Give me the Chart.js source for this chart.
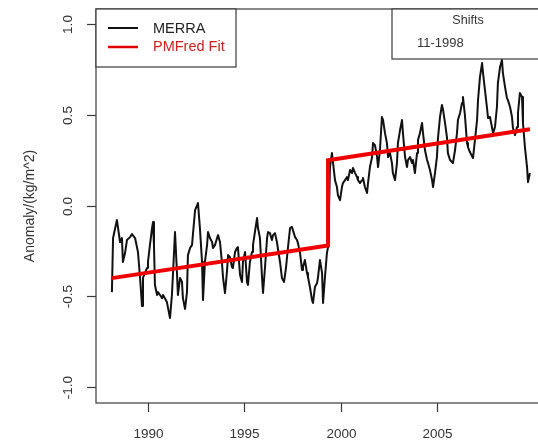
<!DOCTYPE html>
<html>
<head>
<meta charset="utf-8">
<script src="https://cdn.jsdelivr.net/npm/chart.js@4"></script>
<style>
  html, body { margin: 0; padding: 0; background: #fff; overflow: hidden; }
  canvas { display: block; }
</style>
</head>
<body>
<canvas id="chart" width="550" height="448"></canvas>
<script>
// MERRA anomaly (kg/m^2)
const merraYears = [
  1988.13, 1988.19, 1988.39, 1988.45, 1988.55, 1988.65, 1988.70, 1988.81, 1988.91, 1989.07,
  1989.17, 1989.33, 1989.48, 1989.59, 1989.69, 1989.74, 1989.95, 1990.00, 1990.10, 1990.21,
  1990.26, 1990.31, 1990.36, 1990.47, 1990.52, 1990.62, 1990.73, 1990.78, 1990.98, 1991.14,
  1991.24, 1991.30, 1991.40, 1991.50, 1991.55, 1991.66, 1991.76, 1991.81, 1991.92, 1992.02,
  1992.07, 1992.18, 1992.28, 1992.44, 1992.59,
  1992.69, 1992.80, 1992.85, 1992.95, 1993.06, 1993.11, 1993.21, 1993.32, 1993.37, 1993.47,
  1993.58, 1993.63, 1993.73, 1993.83, 1993.89, 1993.99, 1994.09, 1994.15, 1994.25, 1994.35,
  1994.40, 1994.51, 1994.61, 1994.66, 1994.77, 1994.87, 1994.92, 1995.03, 1995.13, 1995.18,
  1995.28, 1995.39, 1995.44, 1995.54, 1995.65, 1995.70, 1995.80, 1995.91, 1995.96, 1996.06,
  1996.17, 1996.22, 1996.32, 1996.42, 1996.48, 1996.58, 1996.68, 1996.84, 1996.94, 1997.05,
  1997.15, 1997.25, 1997.36, 1997.46,
  1997.62, 1997.72, 1997.77, 1997.88, 1997.98, 1998.03, 1998.13, 1998.24, 1998.29, 1998.39,
  1998.50, 1998.55, 1998.65, 1998.76, 1998.81, 1998.91, 1999.02, 1999.07, 1999.17, 1999.27,
  1999.33, 1999.43, 1999.53, 1999.59, 1999.69, 1999.79, 1999.84, 1999.95, 2000.05, 2000.10,
  2000.21, 2000.31, 2000.36, 2000.47, 2000.57, 2000.62, 2000.73, 2000.83, 2000.88, 2000.98,
  2001.09, 2001.14, 2001.24, 2001.35, 2001.40, 2001.50, 2001.61, 2001.66, 2001.76, 2001.87,
  2001.92,
  2002.02, 2002.12, 2002.18, 2002.28, 2002.38, 2002.44, 2002.54, 2002.64, 2002.69, 2002.80,
  2002.90, 2002.95, 2003.06, 2003.16, 2003.21, 2003.32, 2003.42, 2003.47, 2003.58, 2003.68,
  2003.73, 2003.83, 2003.94, 2003.99, 2004.09, 2004.20, 2004.25, 2004.35, 2004.46, 2004.51,
  2004.61, 2004.72, 2004.77, 2004.87, 2004.97, 2005.03, 2005.13, 2005.23, 2005.29, 2005.39,
  2005.49, 2005.54, 2005.65, 2005.75, 2005.80, 2005.91, 2006.01, 2006.06, 2006.17, 2006.27,
  2006.32, 2006.42, 2006.53, 2006.58,
  2006.68, 2006.84, 2006.94, 2007.05, 2007.10, 2007.20, 2007.31, 2007.36, 2007.46, 2007.56,
  2007.62, 2007.72, 2007.82, 2007.88, 2007.98, 2008.08, 2008.13, 2008.24, 2008.34, 2008.39,
  2008.50, 2008.60, 2008.65, 2008.76, 2008.86, 2008.91, 2009.02, 2009.12, 2009.17, 2009.27,
  2009.38, 2009.43, 2009.53, 2009.64, 2009.69, 2009.79
];
const merraValues = [
  -0.477, -0.179, -0.080, -0.124, -0.201, -0.179, -0.311, -0.262, -0.190, -0.174,
  -0.157, -0.179, -0.256, -0.399, -0.554, -0.399, -0.344, -0.311, -0.218, -0.124,
  -0.091, -0.218, -0.438, -0.493, -0.477, -0.493, -0.510, -0.493, -0.532, -0.620,
  -0.493, -0.366, -0.146, -0.366, -0.493, -0.399, -0.421, -0.510, -0.570, -0.477,
  -0.273, -0.234, -0.218, -0.025, 0.014,
  -0.124, -0.311, -0.521, -0.311, -0.218, -0.146, -0.179, -0.201, -0.234, -0.218,
  -0.179, -0.163, -0.201, -0.311, -0.399, -0.482, -0.366, -0.273, -0.284, -0.339,
  -0.344, -0.256, -0.234, -0.229, -0.383, -0.421, -0.311, -0.256, -0.421, -0.438,
  -0.311, -0.256, -0.218, -0.146, -0.069, -0.124, -0.179, -0.399, -0.482, -0.344,
  -0.179, -0.146, -0.152, -0.190, -0.163, -0.152, -0.201, -0.311, -0.399, -0.421,
  -0.344, -0.234, -0.124, -0.118,
  -0.174, -0.190, -0.207, -0.262, -0.355, -0.339, -0.300, -0.372, -0.394, -0.449,
  -0.521, -0.537, -0.449, -0.427, -0.394, -0.300, -0.372, -0.537, -0.394, -0.262,
  -0.229, 0.212, 0.289, 0.234, 0.140, 0.102, 0.058, 0.030, 0.102, 0.124,
  0.140, 0.157, 0.140, 0.196, 0.179, 0.207, 0.179, 0.157, 0.140, 0.124,
  0.140, 0.152, 0.102, 0.069, 0.124, 0.212, 0.267, 0.344, 0.333, 0.267,
  0.212,
  0.306, 0.488, 0.471, 0.399, 0.344, 0.267, 0.289, 0.234, 0.179, 0.140,
  0.234, 0.344, 0.416, 0.471, 0.399, 0.267, 0.212, 0.251, 0.267, 0.234,
  0.251, 0.179, 0.289, 0.361, 0.399, 0.455, 0.399, 0.306, 0.251, 0.234,
  0.196, 0.140, 0.102, 0.179, 0.267, 0.377, 0.488, 0.554, 0.526, 0.455,
  0.377, 0.289, 0.251, 0.240, 0.234, 0.306, 0.399, 0.471, 0.510, 0.565,
  0.598, 0.499, 0.344, 0.322,
  0.295, 0.262, 0.361, 0.471, 0.581, 0.708, 0.785, 0.730, 0.636, 0.543,
  0.482, 0.488, 0.433, 0.399, 0.433, 0.543, 0.675, 0.763, 0.802, 0.730,
  0.653, 0.592, 0.581, 0.543, 0.488, 0.427, 0.388, 0.433, 0.510, 0.620,
  0.598, 0.455, 0.322, 0.212, 0.129, 0.179
];

// PMFred fit with one shift
const fitYears = [1988.13, 1999.33, 1999.33, 2009.79];
const fitValues = [-0.40, -0.22, 0.25, 0.42];

const xTicks = [1990, 1995, 2000, 2005];
const yTicks = [-1.0, -0.5, 0.0, 0.5, 1.0];
const yTickLabels = ['-1.0', '-0.5', '0.0', '0.5', '1.0'];
const shiftLabels = ['11-1998'];

const FONT = '"Liberation Sans", Arial, Helvetica, sans-serif';

const rStyle = {
  id: 'rStyle',
  afterDraw(chart) {
    const ctx = chart.ctx;
    const a = chart.chartArea;
    const xs = chart.scales.x, ys = chart.scales.y;
    ctx.save();
    ctx.strokeStyle = '#3a3a3a';
    ctx.lineWidth = 1.2;
    // plot box
    ctx.strokeRect(a.left, a.top, a.right - a.left, a.bottom - a.top);

    // x axis ticks + labels
    ctx.fillStyle = '#333';
    ctx.font = '13.5px ' + FONT;
    ctx.textAlign = 'center';
    ctx.textBaseline = 'middle';
    xTicks.forEach(t => {
      const px = Math.round(xs.getPixelForValue(t)) + 0.5;
      ctx.beginPath();
      ctx.moveTo(px, a.bottom);
      ctx.lineTo(px, a.bottom + 9);
      ctx.stroke();
      ctx.fillText(String(t), px, a.bottom + 31);
    });

    // y axis ticks + rotated labels
    yTicks.forEach((t, i) => {
      const py = Math.round(ys.getPixelForValue(t)) + 0.5;
      ctx.beginPath();
      ctx.moveTo(a.left - 9, py);
      ctx.lineTo(a.left, py);
      ctx.stroke();
      ctx.save();
      ctx.translate(a.left - 28, py);
      ctx.rotate(-Math.PI / 2);
      ctx.fillText(yTickLabels[i], 0, 0);
      ctx.restore();
    });

    // y title
    ctx.save();
    ctx.translate(30, (a.top + a.bottom) / 2);
    ctx.rotate(-Math.PI / 2);
    ctx.font = '14px ' + FONT;
    ctx.fillText('Anomaly/(kg/m^2)', 0, 0);
    ctx.restore();

    // legend
    ctx.fillStyle = '#fff';
    ctx.fillRect(a.left, a.top, 140, 58);
    ctx.strokeRect(a.left, a.top, 140, 58);
    ctx.lineWidth = 2;
    ctx.strokeStyle = '#111';
    ctx.beginPath(); ctx.moveTo(108, 28); ctx.lineTo(138, 28); ctx.stroke();
    ctx.strokeStyle = '#e00000';
    ctx.lineWidth = 2.5;
    ctx.beginPath(); ctx.moveTo(108, 47); ctx.lineTo(138, 47); ctx.stroke();
    ctx.font = '14.5px ' + FONT;
    ctx.textAlign = 'left';
    ctx.fillStyle = '#222';
    ctx.fillText('MERRA', 153, 29);
    ctx.fillStyle = '#d02020';
    ctx.fillText('PMFred Fit', 153, 47);

    // shifts box
    ctx.strokeStyle = '#3a3a3a';
    ctx.lineWidth = 1.2;
    ctx.fillStyle = '#fff';
    ctx.fillRect(392, a.top, 200, 50);
    ctx.strokeRect(392, a.top, 200, 50);
    ctx.fillStyle = '#333';
    ctx.font = '12.5px ' + FONT;
    ctx.textAlign = 'center';
    ctx.fillText('Shifts', 468, 21);
    ctx.font = '13px ' + FONT;
    ctx.textAlign = 'left';
    shiftLabels.forEach((s, i) => ctx.fillText(s, 417, 43 + i * 16));
    ctx.restore();
  }
};

const merraData = merraYears.map((x, i) => ({ x: x, y: merraValues[i] }));
const fitData = fitYears.map((x, i) => ({ x: x, y: fitValues[i] }));

new Chart(document.getElementById('chart'), {
  type: 'line',
  data: {
    datasets: [
      { label: 'PMFred Fit', data: fitData, borderColor: '#ee0000', borderWidth: 4,
        pointRadius: 0, tension: 0, borderCapStyle: 'butt', borderJoinStyle: 'miter' },
      { label: 'MERRA', data: merraData, borderColor: '#111', borderWidth: 2,
        pointRadius: 0, tension: 0, borderJoinStyle: 'round' }
    ]
  },
  options: {
    responsive: false,
    animation: false,
    devicePixelRatio: 1,
    layout: { padding: { left: 96, top: 9, right: 2.5, bottom: 45 } },
    plugins: { legend: { display: false }, tooltip: { enabled: false } },
    scales: {
      x: { type: 'linear', min: 1987.306, max: 2010.70, display: false },
      y: { type: 'linear', min: -1.088, max: 1.083, display: false }
    }
  },
  plugins: [rStyle]
});
</script>
</body>
</html>
